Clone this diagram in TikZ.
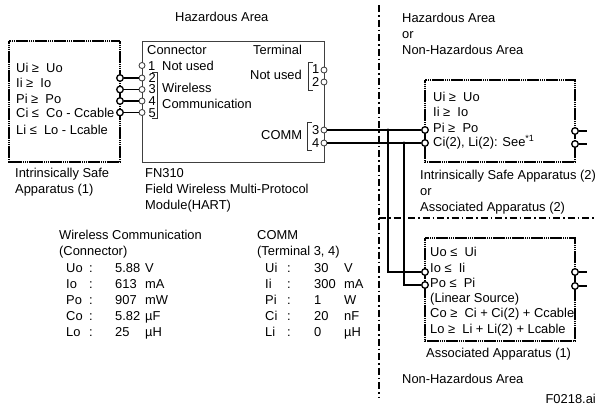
\documentclass[tikz,border=0pt]{standalone}
\usepackage{fontspec}
\usepackage{array}
\setmainfont{Liberation Sans}
\tikzset{
  lbl/.style={anchor=west,inner sep=0pt,text height=10.3pt,text depth=1.7pt,font=\fontsize{12.9}{15}\selectfont},
  numlbl/.style={anchor=west,inner sep=0pt,text height=8.6pt,text depth=0pt,font=\fontsize{12.9}{15}\selectfont},
  tbl/.style={anchor=north west,inner sep=0pt,font=\fontsize{12.9}{16}\selectfont},
  term/.style={circle,draw=black!80,fill=white,line width=.8pt,minimum size=6pt,inner sep=0pt},
  apterm/.style={circle,draw=black,fill=white,line width=1.3pt,minimum size=6.6pt,inner sep=0pt},
  apbox/.style={line width=1.6pt,dash pattern=on 1.5pt off .4pt},
  wire/.style={line width=1.2pt},
  divider/.style={line width=1.1pt,dash pattern=on 7pt off 3pt on 1.5pt off 3pt}
}
\begin{document}
\begin{tikzpicture}[x=1pt,y=-1pt]
\useasboundingbox (0,0) rectangle (597,408);
% boxes
\draw[apbox] (9,41) rectangle (120,162);
\draw[black!75,line width=.9pt] (142,41) rectangle (324,162);
\draw[apbox] (425,80) rectangle (575,162);
\draw[apbox] (425,238) rectangle (575,341);

% area dividers
\coordinate (divtop) at (379,5);
\coordinate (divbot) at (379,398);
\coordinate (divmid) at (379,218);
\coordinate (divend) at (595,218);
\draw[divider] (divtop) -- (divbot);
\draw[divider] (divmid) -- (divend);

% connector terminals of FN310
\node[term] (con1) at (142,65.5) {};
\node[term] (con2) at (142,78) {};
\node[term] (con3) at (142,89.5) {};
\node[term] (con4) at (142,101) {};
\node[term] (con5) at (142,112.5) {};
\node[apterm] (isa2) at (120,78) {};
\node[apterm] (isa3) at (120,89.5) {};
\node[apterm] (isa4) at (120,101) {};
\node[apterm] (isa5) at (120,112.5) {};
\draw[wire] (isa2) -- (con2);
\draw[wire] (isa3) -- (con3);
\draw[wire] (isa4) -- (con4);
\draw[wire] (isa5) -- (con5);

% terminal block of FN310
\node[term] (ter1) at (324,70) {};
\node[term] (ter2) at (324,82) {};
\node[term] (ter3) at (324,130) {};
\node[term] (ter4) at (324,143) {};
\node[apterm] (safeA) at (425,130) {};
\node[apterm] (safeB) at (425,143) {};
\node[apterm] (assocA) at (425,272) {};
\node[apterm] (assocB) at (425,285) {};
\draw[wire] (ter3) -- (safeA);
\draw[wire] (ter4) -- (safeB);
\coordinate (junA) at (388,130);
\coordinate (junB) at (404,143);
\fill (junA) circle (1.7pt);
\fill (junB) circle (1.7pt);
\draw[wire] (junA) |- (assocA);
\draw[wire] (junB) |- (assocB);

% output side of the apparatus
\node[apterm] (safeC) at (575,131) {};
\node[apterm] (safeD) at (575,144) {};
\node[apterm] (assocC) at (575,272) {};
\node[apterm] (assocD) at (575,286) {};
\coordinate (leadC) at (587,131);
\coordinate (leadD) at (587,144);
\coordinate (leadE) at (587,272);
\coordinate (leadF) at (587,286);
\draw[wire] (safeC) -- (leadC);
\draw[wire] (safeD) -- (leadD);
\draw[wire] (assocC) -- (leadE);
\draw[wire] (assocD) -- (leadF);

% brackets
\draw[black!80,line width=.8pt] (152,72) -- (157,72) -- (157,118) -- (152,118);
\draw[black!80,line width=.8pt] (313,62) -- (308,62) -- (308,90) -- (313,90);
\draw[black!80,line width=.8pt] (312,122) -- (307,122) -- (307,150) -- (312,150);

% left apparatus
\node[lbl] (ui) at (16,68) {Ui ≥\ \ Uo};
\node[lbl] (ii) at (16,83) {Ii ≥\ \ Io};
\node[lbl] (pi) at (16,99) {Pi ≥\ \ Po};
\node[lbl] (ci) at (16,113) {Ci ≤\ \ Co - Ccable};
\node[lbl] (li) at (16,130) {Li ≤\ \ Lo - Lcable};
\node[lbl] (isname) at (15,173) {Intrinsically Safe};
\node[lbl] (isnum) at (15,189) {Apparatus (1)};

% FN310
\node[lbl] (hazard) at (175,17) {Hazardous Area};
\node[lbl] (conn) at (147,50) {Connector};
\node[lbl] (termn) at (253,50) {Terminal};
\node[numlbl] (num1) at (148,66) {1};
\node[numlbl] (num2) at (148.5,77.8) {2};
\node[numlbl] (num3) at (148.5,89.6) {3};
\node[numlbl] (num4) at (148.5,101.4) {4};
\node[numlbl] (num5) at (148.5,113.2) {5};
\node[lbl] (nused) at (162,66) {Not used};
\node[lbl] (wless) at (162,88) {Wireless};
\node[lbl] (wcomm) at (162,104) {Communication};
\node[lbl] (nused2) at (250,75) {Not used};
\node[lbl] (comm) at (261,135) {COMM};
\node[numlbl] (tnum1) at (312,69) {1};
\node[numlbl] (tnum2) at (312,82) {2};
\node[numlbl] (tnum3) at (312,130) {3};
\node[numlbl] (tnum4) at (312,143) {4};
\node[lbl] (fn) at (145,173) {FN310};
\node[lbl] (fnb) at (145,189) {Field Wireless Multi-Protocol};
\node[lbl] (fnc) at (145,205) {Module(HART)};

% parameter tables
\node[lbl] (wtitle) at (59,235) {Wireless Communication};
\node[lbl] (wsub) at (59,251) {(Connector)};
\node[tbl] (wtab) at (66,261.5) {\begin{tabular}{@{}p{23pt}@{}p{26pt}@{}p{30pt}@{}l@{}}
Uo & : & 5.88 & V\\
Io & : & 613 & mA\\
Po & : & 907 & mW\\
Co & : & 5.82 & µF\\
Lo & : & 25 & µH
\end{tabular}};
\node[lbl] (ctitle) at (257,235) {COMM};
\node[lbl] (csub) at (257,251) {(Terminal 3, 4)};
\node[tbl] (ctab) at (265,261.5) {\begin{tabular}{@{}p{22pt}@{}p{27pt}@{}p{30pt}@{}l@{}}
Ui & : & 30 & V\\
Ii & : & 300 & mA\\
Pi & : & 1 & W\\
Ci & : & 20 & nF\\
Li & : & 0 & µH
\end{tabular}};

% right side texts
\node[lbl] (area1) at (402,18) {Hazardous Area};
\node[lbl] (area2) at (402,34) {or};
\node[lbl] (area3) at (402,50) {Non-Hazardous Area};
\node[lbl] (rui) at (433,97) {Ui ≥\ \ Uo};
\node[lbl] (rii) at (433,112) {Ii ≥\ \ Io};
\node[lbl] (rpi) at (433,128) {Pi ≥\ \ Po};
\node[lbl] (rci) at (433,142) {Ci(2), Li(2): See\textsuperscript{*1}};
\node[lbl] (sname) at (420,175) {Intrinsically Safe Apparatus (2)};
\node[lbl] (sor) at (420,191) {or};
\node[lbl] (sassoc) at (420,207) {Associated Apparatus (2)};
\node[lbl] (auo) at (430,252) {Uo ≤\ \ Ui};
\node[lbl] (aio) at (430,268) {Io ≤\ \ Ii};
\node[lbl] (apo) at (430,283) {Po ≤\ \ Pi};
\node[lbl] (alin) at (430,298) {(Linear Source)};
\node[lbl] (aco) at (430,313) {Co ≥\ \ Ci + Ci(2) + Ccable};
\node[lbl] (alo) at (430,329) {Lo ≥\ \ Li + Li(2) + Lcable};
\node[lbl] (aname) at (426,353) {Associated Apparatus (1)};
\node[lbl] (nonhaz) at (402,379) {Non-Hazardous Area};
\node[lbl,anchor=east] (figid) at (596,399) {F0218.ai};
\end{tikzpicture}
\end{document}
